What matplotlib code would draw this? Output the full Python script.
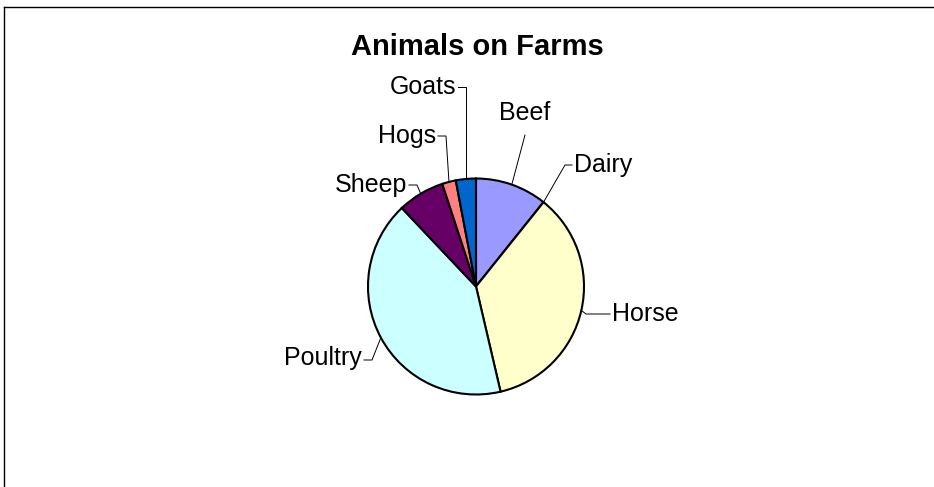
import numpy as np
import matplotlib
matplotlib.use("Agg")
import matplotlib.pyplot as plt

# data (percent of animals)
animals = ["Beef", "Dairy", "Horse", "Poultry", "Sheep", "Hogs", "Goats"]
shares = [10.75, 0.0, 35.6, 41.6, 7.0, 2.05, 3.0]
colors = ["#9999FF", "#FFFFFF", "#FFFFCC", "#CCFFFF", "#660066", "#FF8080", "#0066CC"]
title = "Animals on Farms"

# layout: label position, alignment and leader elbow (pixel coords, y up)
label_layout = {
    "Beef": dict(xy=(525, 374), ha="center", elbow=[(525, 352)]),
    "Dairy": dict(xy=(574, 322), ha="left", elbow=[(565, 322), (572, 322)]),
    "Horse": dict(xy=(612, 173), ha="left", elbow=[(586, 173), (610, 173)]),
    "Poultry": dict(xy=(362, 129), ha="right", elbow=[(372, 127), (364, 127)]),
    "Sheep": dict(xy=(407, 302), ha="right", elbow=[(417, 302), (409, 302)]),
    "Hogs": dict(xy=(436, 351), ha="right", elbow=[(446, 351), (438, 351)]),
    "Goats": dict(xy=(456, 400), ha="right", elbow=[None, (458, 400)]),
}

W, H = 934, 487
cx, cy, R = 476, 200.5, 108

plt.rcParams["font.family"] = ["Liberation Sans", "DejaVu Sans"]
fig = plt.figure(figsize=(W / 100, H / 100), dpi=100)
ax = fig.add_axes([0, 0, 1, 1])

wedges, _ = ax.pie(
    shares,
    colors=colors,
    startangle=90,
    counterclock=False,
    radius=R,
    center=(cx, cy),
    wedgeprops=dict(edgecolor="black", linewidth=1.5),
)

for name, w in zip(animals, wedges):
    mid = np.deg2rad((w.theta1 + w.theta2) / 2)
    ex, ey = cx + R * np.cos(mid), cy + R * np.sin(mid)
    lay = label_layout[name]
    pts = [(ex, ey)]
    for p in lay["elbow"]:
        if p is None:
            pts.append((ex, lay["elbow"][1][1]))
        else:
            pts.append(p)
    xs, ys = zip(*pts)
    ax.plot(xs, ys, color="black", lw=0.7)
    ax.text(lay["xy"][0], lay["xy"][1], name, ha=lay["ha"], va="center", fontsize=18)

ax.text(477, 440, title, ha="center", va="center", fontsize=21, fontweight="bold")

# chart area border (top and left only visible)
ax.plot([4, W], [480, 480], color="black", lw=1.0)
ax.plot([4, 4], [480, 0], color="black", lw=1.0)

ax.set_xlim(0, W)
ax.set_ylim(0, H)
ax.set_aspect("auto")
ax.axis("off")

fig.savefig("out.png", dpi=100)
